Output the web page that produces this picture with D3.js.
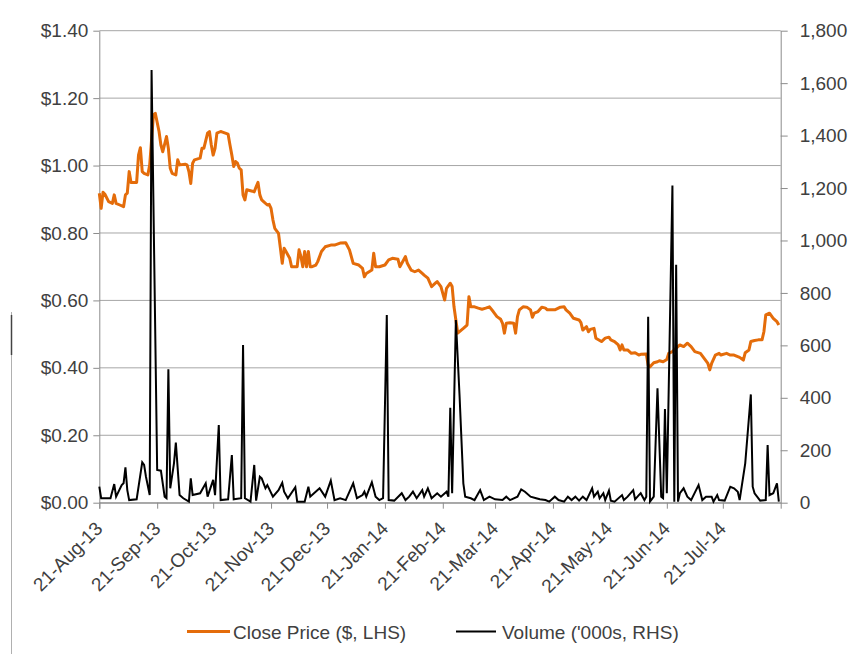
<!DOCTYPE html>
<html>
<head>
<meta charset="utf-8">
<script src="https://cdn.jsdelivr.net/npm/d3@7"></script>
<style>
  html, body { margin: 0; padding: 0; background: #fff; }
  svg { display: block; font-family: "Liberation Sans", Arial, sans-serif; }
</style>
</head>
<body>
<svg id="chart" width="855" height="654"></svg>
<script>
// ---------------- DATA ----------------
const priceDates = [
"2013-08-21","2013-08-22","2013-08-23","2013-08-24","2013-08-26","2013-08-28","2013-08-29","2013-08-30",
"2013-09-01","2013-09-03","2013-09-04","2013-09-05","2013-09-06","2013-09-07","2013-09-10","2013-09-11",
"2013-09-12","2013-09-13","2013-09-14","2013-09-16","2013-09-17","2013-09-19","2013-09-20","2013-09-22",
"2013-09-23","2013-09-24","2013-09-26","2013-09-27","2013-09-28","2013-09-29","2013-10-01","2013-10-02",
"2013-10-03","2013-10-06","2013-10-07","2013-10-08","2013-10-09","2013-10-10","2013-10-11","2013-10-14",
"2013-10-15","2013-10-16","2013-10-18","2013-10-19","2013-10-20","2013-10-21","2013-10-22","2013-10-23",
"2013-10-25","2013-10-26","2013-10-29","2013-10-30","2013-10-31","2013-11-01","2013-11-02","2013-11-03",
"2013-11-04","2013-11-05","2013-11-06","2013-11-07","2013-11-08","2013-11-11","2013-11-12","2013-11-13",
"2013-11-14","2013-11-15","2013-11-16","2013-11-17","2013-11-19","2013-11-20","2013-11-21","2013-11-22",
"2013-11-23","2013-11-25","2013-11-26","2013-11-27","2013-11-28","2013-11-29","2013-12-01","2013-12-02",
"2013-12-05","2013-12-06","2013-12-07","2013-12-08","2013-12-09","2013-12-10","2013-12-11","2013-12-12",
"2013-12-13","2013-12-15","2013-12-16","2013-12-18","2013-12-20","2013-12-23","2013-12-25","2013-12-28",
"2013-12-31","2014-01-02","2014-01-04","2014-01-07","2014-01-09","2014-01-10","2014-01-11","2014-01-14",
"2014-01-15","2014-01-16","2014-01-18","2014-01-21","2014-01-23","2014-01-25","2014-01-28","2014-01-29",
"2014-01-31","2014-02-01","2014-02-02","2014-02-04","2014-02-06","2014-02-08","2014-02-10","2014-02-11",
"2014-02-13","2014-02-15","2014-02-17","2014-02-18","2014-02-20","2014-02-22","2014-02-23","2014-02-25",
"2014-02-26","2014-02-27","2014-02-28","2014-03-01","2014-03-04","2014-03-06","2014-03-07","2014-03-08",
"2014-03-10","2014-03-12","2014-03-14","2014-03-16","2014-03-18","2014-03-20","2014-03-22","2014-03-24",
"2014-03-25","2014-03-26","2014-03-27","2014-03-29","2014-03-31","2014-04-01","2014-04-02","2014-04-03",
"2014-04-05","2014-04-07","2014-04-09","2014-04-10","2014-04-11","2014-04-13","2014-04-15","2014-04-17",
"2014-04-18","2014-04-22","2014-04-25","2014-04-27","2014-04-28","2014-04-30","2014-05-02","2014-05-05",
"2014-05-06","2014-05-07","2014-05-09","2014-05-10","2014-05-11","2014-05-13","2014-05-14","2014-05-17",
"2014-05-19","2014-05-21","2014-05-22","2014-05-24","2014-05-26","2014-05-27","2014-05-28","2014-05-29",
"2014-05-31","2014-06-02","2014-06-04","2014-06-06","2014-06-07","2014-06-10","2014-06-11","2014-06-12",
"2014-06-14","2014-06-16","2014-06-17","2014-06-19","2014-06-21","2014-06-22","2014-06-24","2014-06-25",
"2014-06-28","2014-06-30","2014-07-02","2014-07-04","2014-07-06","2014-07-09","2014-07-11","2014-07-13",
"2014-07-14","2014-07-15","2014-07-17","2014-07-19","2014-07-20","2014-07-23","2014-07-25","2014-07-27",
"2014-07-30","2014-08-01","2014-08-02","2014-08-04","2014-08-05","2014-08-07","2014-08-09","2014-08-11",
"2014-08-12","2014-08-13","2014-08-15","2014-08-17","2014-08-19","2014-08-20"
];
const priceValues = [
0.918,0.873,0.921,0.915,0.893,0.888,0.913,0.888,
0.883,0.878,0.913,0.918,0.982,0.950,0.950,1.031,
1.053,0.982,0.977,0.972,1.002,1.150,1.155,1.101,
1.061,1.041,1.086,1.051,0.992,0.977,0.972,1.017,
1.002,1.004,1.002,0.982,0.947,1.007,1.017,1.022,
1.051,1.051,1.096,1.101,1.061,1.031,1.051,1.096,
1.101,1.099,1.093,1.061,1.031,0.997,1.012,1.007,
0.992,0.987,0.913,0.898,0.928,0.924,0.922,0.937,
0.950,0.913,0.898,0.893,0.883,0.885,0.873,0.839,
0.814,0.799,0.755,0.710,0.755,0.745,0.725,0.700,
0.700,0.750,0.730,0.700,0.745,0.700,0.745,0.700,
0.700,0.705,0.715,0.745,0.759,0.764,0.764,0.770,
0.771,0.750,0.710,0.705,0.695,0.670,0.680,0.690,
0.740,0.700,0.700,0.705,0.720,0.725,0.722,0.700,
0.720,0.730,0.710,0.690,0.685,0.690,0.680,0.675,
0.666,0.641,0.651,0.656,0.641,0.601,0.636,0.651,
0.641,0.581,0.542,0.503,0.517,0.527,0.611,0.581,
0.581,0.577,0.574,0.577,0.581,0.567,0.552,0.544,
0.532,0.503,0.532,0.534,0.532,0.503,0.552,0.572,
0.581,0.580,0.572,0.550,0.562,0.567,0.580,0.577,
0.572,0.572,0.580,0.581,0.572,0.562,0.547,0.542,
0.534,0.512,0.522,0.507,0.514,0.517,0.488,0.478,
0.488,0.491,0.483,0.478,0.468,0.453,0.468,0.453,
0.453,0.443,0.445,0.438,0.440,0.441,0.408,0.403,
0.415,0.418,0.421,0.418,0.425,0.443,0.448,0.453,
0.468,0.463,0.473,0.463,0.448,0.443,0.428,0.413,
0.394,0.413,0.438,0.443,0.438,0.443,0.438,0.438,
0.431,0.423,0.445,0.453,0.478,0.481,0.483,0.483,
0.507,0.557,0.562,0.547,0.537,0.527
];

const volumeDates = [
"2013-08-21","2013-08-22","2013-08-27","2013-08-29","2013-08-30","2013-09-02","2013-09-03","2013-09-04",
"2013-09-05","2013-09-06","2013-09-10","2013-09-13","2013-09-14","2013-09-15","2013-09-17","2013-09-18",
"2013-09-21","2013-09-23","2013-09-25","2013-09-26","2013-09-27","2013-09-28","2013-09-30","2013-10-01",
"2013-10-03","2013-10-05","2013-10-08","2013-10-09","2013-10-10","2013-10-14","2013-10-17","2013-10-18",
"2013-10-21","2013-10-22","2013-10-24","2013-10-25","2013-10-29","2013-10-31","2013-11-01","2013-11-05",
"2013-11-06","2013-11-07","2013-11-10","2013-11-12","2013-11-13","2013-11-15","2013-11-16","2013-11-18",
"2013-11-19","2013-11-22","2013-11-25","2013-11-27","2013-11-28","2013-11-30","2013-12-04","2013-12-05",
"2013-12-09","2013-12-11","2013-12-12","2013-12-14","2013-12-17","2013-12-20","2013-12-23","2013-12-25",
"2013-12-28","2013-12-31","2014-01-04","2014-01-06","2014-01-09","2014-01-10","2014-01-11","2014-01-14",
"2014-01-16","2014-01-18","2014-01-20","2014-01-22","2014-01-23","2014-01-26","2014-01-30","2014-02-01",
"2014-02-03","2014-02-05","2014-02-07","2014-02-10","2014-02-11","2014-02-13","2014-02-15","2014-02-18",
"2014-02-20","2014-02-23","2014-02-24","2014-02-25","2014-02-26","2014-02-28","2014-03-02","2014-03-04",
"2014-03-05","2014-03-08","2014-03-10","2014-03-13","2014-03-15","2014-03-18","2014-03-21","2014-03-25",
"2014-03-27","2014-03-29","2014-04-02","2014-04-04","2014-04-06","2014-04-09","2014-04-12","2014-04-14",
"2014-04-17","2014-04-19","2014-04-22","2014-04-24","2014-04-27","2014-04-29","2014-05-01","2014-05-03",
"2014-05-05","2014-05-07","2014-05-09","2014-05-12","2014-05-13","2014-05-15","2014-05-16","2014-05-18",
"2014-05-19","2014-05-21","2014-05-22","2014-05-24","2014-05-28","2014-05-29","2014-05-31","2014-06-03",
"2014-06-04","2014-06-06","2014-06-07","2014-06-09","2014-06-10","2014-06-11","2014-06-12","2014-06-14",
"2014-06-16","2014-06-18","2014-06-19","2014-06-20","2014-06-21","2014-06-24","2014-06-25","2014-06-26",
"2014-06-27","2014-06-28","2014-06-30","2014-07-02","2014-07-04","2014-07-08","2014-07-10","2014-07-12",
"2014-07-15","2014-07-16","2014-07-18","2014-07-19","2014-07-22","2014-07-25","2014-07-27","2014-07-29",
"2014-07-30","2014-08-02","2014-08-05","2014-08-06","2014-08-07","2014-08-10","2014-08-13","2014-08-14",
"2014-08-15","2014-08-17","2014-08-19","2014-08-20"
];
const volumeValues = [
61,17,17,71,23,67,74,135,
48,10,13,154,144,99,29,1650,
125,122,23,17,509,55,150,229,
29,17,4,93,29,36,74,23,
87,29,296,10,13,182,13,17,
601,17,4,144,8,99,93,55,
67,23,48,76,42,17,59,4,
4,61,23,36,55,23,84,10,
17,10,74,17,29,42,23,78,
23,10,17,716,10,8,36,10,
23,42,17,48,23,55,17,36,
23,42,23,362,36,697,404,74,
23,17,10,48,10,23,13,10,
23,10,23,51,42,23,17,13,
10,4,23,10,4,23,10,23,
8,23,10,55,23,42,17,36,
10,46,8,4,29,10,23,48,
13,29,36,10,23,709,4,23,
436,23,17,357,36,1210,4,907,
4,36,55,23,10,67,10,23,
23,4,29,10,8,61,55,42,
10,150,413,61,36,8,10,220,
29,36,74,4
];

const priceTicks = [0, 0.2, 0.4, 0.6, 0.8, 1.0, 1.2, 1.4];
const volumeTicks = [0, 200, 400, 600, 800, 1000, 1200, 1400, 1600, 1800];
const monthTicks = ["2013-08-21","2013-09-21","2013-10-21","2013-11-21","2013-12-21","2014-01-21",
                    "2014-02-21","2014-03-21","2014-04-21","2014-05-21","2014-06-21","2014-07-21"];
const xDomain = ["2013-08-21", "2014-08-21"];
const seriesNames = ["Close Price ($, LHS)", "Volume ('000s, RHS)"];
const seriesColors = ["#E46C0A", "#000000"];

// ---------------- CHART ----------------
const parse = d3.timeParse("%Y-%m-%d");
const svg = d3.select("#chart");
const L = 99.3, R = 780.7, T = 30.7, B = 502.7;
const textColor = "#404040";
const fontSize = "19px";

const x = d3.scaleTime().domain(xDomain.map(parse)).range([L, R]);
const yL = d3.scaleLinear().domain([0, 1.4]).range([B, T]);
const yR = d3.scaleLinear().domain([0, 1800]).range([B, T]);

// left frame line fragment
svg.append("line").attr("x1", 11.5).attr("x2", 11.5).attr("y1", 312).attr("y2", 654)
  .attr("stroke", "#b0b0b0").attr("stroke-width", 1);
svg.append("line").attr("x1", 11.5).attr("x2", 11.5).attr("y1", 315).attr("y2", 355)
  .attr("stroke", "#444").attr("stroke-width", 1.5);

// gridlines
svg.append("g").selectAll("line").data(priceTicks).join("line")
  .attr("x1", L).attr("x2", R)
  .attr("y1", d => yL(d)).attr("y2", d => yL(d))
  .attr("stroke", "#a6a6a6").attr("stroke-width", 1);

// left axis
const gL = svg.append("g").attr("transform", `translate(${L},0)`)
  .call(d3.axisLeft(yL).tickValues(priceTicks).tickFormat(d => "$" + d.toFixed(2))
    .tickSize(6).tickSizeOuter(0).tickPadding(5));
// right axis
const gR = svg.append("g").attr("transform", `translate(${R},0)`)
  .call(d3.axisRight(yR).tickValues(volumeTicks).tickFormat(d3.format(","))
    .tickSize(7).tickSizeOuter(0).tickPadding(12));
// bottom axis
const gB = svg.append("g").attr("transform", `translate(0,${B})`)
  .call(d3.axisBottom(x).tickValues(monthTicks.map(parse)).tickFormat(d3.timeFormat("%d-%b-%y"))
    .tickSize(6).tickSizeOuter(6));

[gL, gR, gB].forEach(g => {
  g.selectAll("path.domain").attr("stroke", "#8c8c8c").attr("stroke-width", 1);
  g.selectAll(".tick line").attr("stroke", "#8c8c8c");
  g.selectAll("text").attr("fill", textColor).style("font-size", fontSize)
    .style("font-family", '"Liberation Sans", Arial, sans-serif');
});
gB.selectAll(".tick text")
  .attr("x", 0).attr("y", 0).attr("dy", 0)
  .attr("text-anchor", "end")
  .attr("transform", "translate(4,27) rotate(-45)");

// price line
const pricePts = priceDates.map((d, i) => [parse(d), priceValues[i]]);
svg.append("path").datum(pricePts)
  .attr("fill", "none").attr("stroke", seriesColors[0]).attr("stroke-width", 3)
  .attr("stroke-linejoin", "round")
  .attr("d", d3.line().x(d => x(d[0])).y(d => yL(d[1])));

// volume line
const volPts = volumeDates.map((d, i) => [parse(d), volumeValues[i]]);
svg.append("path").datum(volPts)
  .attr("fill", "none").attr("stroke", seriesColors[1]).attr("stroke-width", 2)
  .attr("stroke-linejoin", "miter")
  .attr("d", d3.line().x(d => x(d[0])).y(d => yR(d[1])));

// legend
const legendItems = [
  { x1: 187, x2: 230, tx: 233, w: 3 },
  { x1: 456, x2: 496, tx: 502, w: 2 }
];
const lg = svg.append("g");
legendItems.forEach((it, i) => {
  lg.append("line").attr("x1", it.x1).attr("x2", it.x2).attr("y1", 631.5).attr("y2", 631.5)
    .attr("stroke", seriesColors[i]).attr("stroke-width", it.w);
  lg.append("text").attr("x", it.tx).attr("y", 638.5)
    .attr("fill", textColor).style("font-size", fontSize).text(seriesNames[i]);
});
</script>
</body>
</html>
